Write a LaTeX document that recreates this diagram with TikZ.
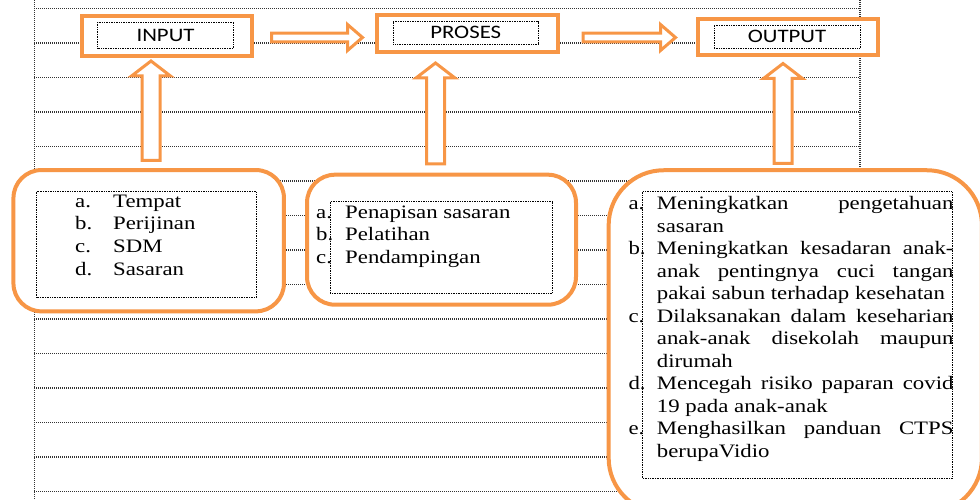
\documentclass[tikz,border=0pt]{standalone}
\usepackage{fontspec}
\setmainfont[FakeStretch=1.2]{Liberation Serif}
\newfontfamily\listfont[FakeStretch=1.2]{Liberation Serif}
\newfontfamily\boxfont[FakeStretch=1.2]{Carlito}
\usetikzlibrary{calc}

\definecolor{boxorange}{RGB}{247,150,70}
\newcommand\listrow[3]{\hangindent=#1\hangafter=1\noindent\makebox[#1][l]{\strut#2}#3\par}

\begin{document}
\begin{tikzpicture}[x=1pt, y=-1pt,
		ruleline/.style={dash pattern=on 1pt off 1pt, line width=1.3pt, black!80},
		frameline/.style={densely dotted, line width=0.7pt, black},
		stagebox/.style={draw=boxorange, line width=4pt, fill=white},
		tagbox/.style={draw, densely dotted, line width=0.7pt, font=\boxfont\fontsize{19}{22}\selectfont, inner sep=0pt},
		listbox/.style={draw=boxorange, line width=4pt, fill=white},
		listtext/.style={anchor=north west, inner sep=0pt, align=justify, font=\listfont\fontsize{19}{22.5}\selectfont},
		blockarrow/.style n args={3}{draw=boxorange, line width=3pt, fill=white, line join=miter,
			to path={-- ($(\tikztostart)!#1!90:(\tikztotarget)$)
				-- ($(\tikztotarget)!#3!(\tikztostart)!#1!90:(\tikztotarget)$)
				-- ($(\tikztotarget)!#3!(\tikztostart)!#2!90:(\tikztotarget)$)
				-- (\tikztotarget)
				-- ($(\tikztotarget)!#3!(\tikztostart)!#2!-90:(\tikztotarget)$)
				-- ($(\tikztotarget)!#3!(\tikztostart)!#1!-90:(\tikztotarget)$)
				-- ($(\tikztostart)!#1!-90:(\tikztotarget)$) -- cycle}}]
		\useasboundingbox (0,0) rectangle (980,500);
		\clip (0,0) rectangle (980,500);

		% ruled page behind the chart
		\foreach \k in {0, 1, ..., 14} {
			\draw[ruleline] (34.3,{8.5+34.5*\k}) -- (860,{8.5+34.5*\k});
		}
		\draw[ruleline] (34.3,0) -- (34.3,500);
		\draw[ruleline] (860,0) -- (860,167);

		% stages
		\node[stagebox, minimum width=170pt, minimum height=40pt] (input) at (166.6,35.6) {};
		\node[tagbox, minimum width=135.6pt, minimum height=26.3pt] (inputtag) at (165.5,35.2) {INPUT};
		\node[stagebox, minimum width=181pt, minimum height=37pt] (proses) at (467.5,33.5) {};
		\node[tagbox, minimum width=144.5pt, minimum height=22.3pt] (prosestag) at (465.7,32.9) {PROSES};
		\node[stagebox, minimum width=180pt, minimum height=36.5pt] (output) at (788,37.2) {};
		\node[tagbox, minimum width=146pt, minimum height=23pt] (outputtag) at (787,36.8) {OUTPUT};

		% lists
		\node[listbox, rounded corners=28pt, minimum width=270.5pt, minimum height=141.3pt] (inputlist) at (148.7,240.7) {};
		\node[listbox, rounded corners=28pt, minimum width=269pt, minimum height=130pt] (proseslist) at (441.5,239.7) {};
		\node[listbox, rounded corners=55pt, minimum width=373.3pt, minimum height=342.7pt] (outputlist) at (795.3,341.6) {};
		\draw[frameline] (36.7,191.7) rectangle (256.7,297.3);
		\draw[frameline] (330,201.7) rectangle (552,293.3);
		\draw[frameline] (642.3,191.7) rectangle (952.3,478.3);

		\node[listtext, text width=170pt] (inputitems) at (75,191.55) {%
			\listrow{38pt}{a.}{Tempat}
			\listrow{38pt}{b.}{Perijinan}
			\listrow{38pt}{c.}{SDM}
			\listrow{38pt}{d.}{Sasaran}};
		\node[listtext, text width=220pt] (prosesitems) at (316,202.2) {%
			\listrow{29pt}{a.}{Penapisan sasaran}
			\listrow{29pt}{b.}{Pelatihan}
			\listrow{29pt}{c.}{Pendampingan}};
		\node[listtext, text width=325pt] (outputitems) at (628.3,193.75) {%
			\listrow{28.4pt}{a.}{Meningkatkan pengetahuan\linebreak sasaran}
			\listrow{28.4pt}{b.}{Meningkatkan kesadaran anak-\linebreak anak pentingnya cuci tangan\linebreak pakai sabun terhadap kesehatan}
			\listrow{28.4pt}{c.}{Dilaksanakan dalam keseharian\linebreak anak-anak disekolah maupun\linebreak dirumah}
			\listrow{28.4pt}{d.}{Mencegah risiko paparan covid\linebreak 19 pada anak-anak}
			\listrow{28.4pt}{e.}{Menghasilkan panduan CTPS\linebreak berupaVidio}};

		% block arrows
		\coordinate (flowa) at (271.5,37.5);
		\coordinate (flowb) at (362.5,37.5);
		\coordinate (flowc) at (583,37.5);
		\coordinate (flowd) at (675.5,37.5);
		\draw[blockarrow={4.3pt}{13pt}{15pt}] (flowa) to (flowb);
		\draw[blockarrow={4.3pt}{13pt}{15pt}] (flowc) to (flowd);
		\coordinate (inputfoot) at (151,160.5);
		\coordinate (inputhead) at (151,61);
		\coordinate (prosesfoot) at (435.5,164);
		\coordinate (proseshead) at (435.5,63);
		\coordinate (outputfoot) at (783,163.5);
		\coordinate (outputhead) at (783,63.5);
		\draw[blockarrow={9pt}{19.5pt}{15pt}] (inputfoot) to (inputhead);
		\draw[blockarrow={9pt}{19.5pt}{15pt}] (prosesfoot) to (proseshead);
		\draw[blockarrow={9pt}{19.5pt}{15pt}] (outputfoot) to (outputhead);
	\end{tikzpicture}
\end{document}
